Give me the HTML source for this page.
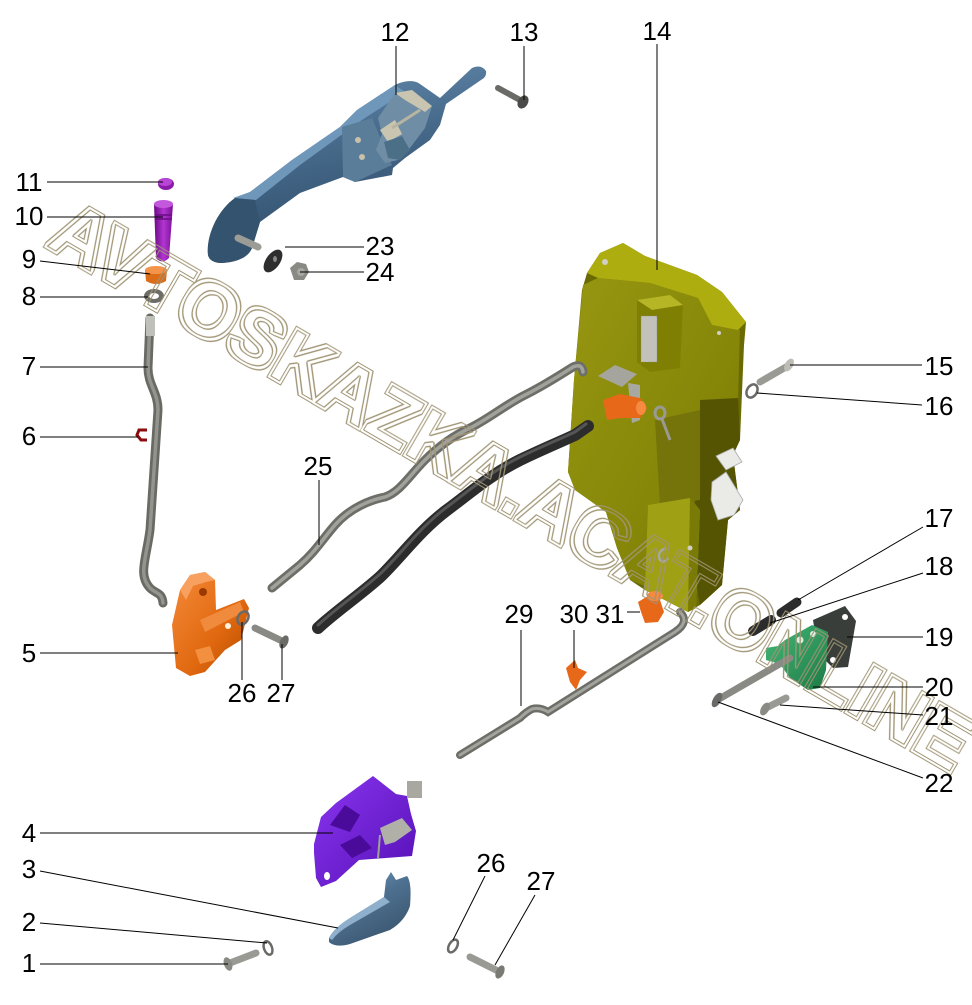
<!DOCTYPE html>
<html><head><meta charset="utf-8"><style>
html,body{margin:0;padding:0;background:#fff;}
svg{display:block;}
text{font-family:"Liberation Sans",Arial,sans-serif;}
</style></head><body>
<svg width="972" height="1005" viewBox="0 0 972 1005" xmlns="http://www.w3.org/2000/svg">
<defs>
<linearGradient id="hb" x1="0" y1="0" x2="0.3" y2="1"><stop offset="0" stop-color="#6a92b4"/><stop offset="0.5" stop-color="#46698a"/><stop offset="1" stop-color="#2d4a66"/></linearGradient>
<linearGradient id="pur" x1="0" y1="0" x2="1" y2="0"><stop offset="0" stop-color="#6a0a85"/><stop offset="0.5" stop-color="#b335d2"/><stop offset="1" stop-color="#7a1095"/></linearGradient>
<linearGradient id="org" x1="0" y1="0" x2="1" y2="1"><stop offset="0" stop-color="#f58a3a"/><stop offset="0.6" stop-color="#e0680f"/><stop offset="1" stop-color="#b04a00"/></linearGradient>
<linearGradient id="ol" x1="0" y1="0" x2="1" y2="1"><stop offset="0" stop-color="#979712"/><stop offset="1" stop-color="#7a7a02"/></linearGradient>
<linearGradient id="vio" x1="0" y1="0" x2="1" y2="1"><stop offset="0" stop-color="#8a35f0"/><stop offset="1" stop-color="#5510b5"/></linearGradient>
<linearGradient id="grn" x1="0" y1="0" x2="1" y2="1"><stop offset="0" stop-color="#45b878"/><stop offset="1" stop-color="#1c7a45"/></linearGradient>
<linearGradient id="tip" x1="0" y1="0" x2="0.6" y2="1"><stop offset="0" stop-color="#7ea2c0"/><stop offset="0.5" stop-color="#4e7090"/><stop offset="1" stop-color="#3a566f"/></linearGradient>
<filter id="dbl" x="-3%" y="-20%" width="106%" height="140%">
<feMorphology in="SourceAlpha" operator="dilate" radius="3" result="d3"/>
<feMorphology in="SourceAlpha" operator="dilate" radius="2" result="d2"/>
<feComposite in="d3" in2="d2" operator="out" result="outer"/>
<feMorphology in="SourceAlpha" operator="erode" radius="1" result="e1"/>
<feComposite in="SourceAlpha" in2="e1" operator="out" result="inner"/>
<feMerge result="m"><feMergeNode in="outer"/><feMergeNode in="inner"/></feMerge>
<feFlood flood-color="#a09574"/>
<feComposite in2="m" operator="in"/>
</filter>
</defs>
<rect width="972" height="1005" fill="#fff"/>

<!-- Part 12 handle -->
<path d="M208,255 C206,235 218,210 235,198 L250,192 L292,160 L340,127 L357,110 L395,85 C405,80 415,80 420,84 L440,98 L472,68 Q481,64 486,71 Q487,77 481,80 L446,104 L440,125 L430,140 L405,158 L393,168 L392,175 L355,182 L343,177 L300,193 L260,222 L252,248 C248,258 236,262 222,263 C214,263 209,260 208,255 Z" fill="url(#hb)"/>
<path d="M233,198 L250,192 L292,160 L340,127 L357,110 L395,85 L405,92 L362,120 L300,165 L256,200 Z" fill="#6f97ba"/>
<path d="M208,255 C206,235 218,210 235,198 L255,200 L260,222 L252,248 C248,258 236,262 222,263 C214,263 209,260 208,255 Z" fill="#34536f"/>
<path d="M342,127 L372,118 L392,165 L355,182 L343,177 Z" fill="#5a7d99"/>
<circle cx="358" cy="140" r="3" fill="#c8c0a8"/><circle cx="362" cy="157" r="3" fill="#c8c0a8"/>
<path d="M378,118 L395,93 L412,90 L432,106 L425,128 L410,148 L398,160 L385,163 L376,150 L382,134 Z" fill="#6f8ea6"/>
<path d="M395,93 L412,90 L432,106 L425,112 L405,100 Z" fill="#c9c5b0"/>
<path d="M380,130 L395,120 L402,134 L388,142 Z" fill="#c9c5b0"/>
<path d="M384,142 L402,136 L410,150 L400,160 L388,158 Z" fill="#4c6f88"/>
<line x1="392" y1="128" x2="420" y2="110" stroke="#b8b4a0" stroke-width="3"/>
<line x1="238" y1="238" x2="258" y2="247" stroke="#9c9c96" stroke-width="7" stroke-linecap="round"/>
<!-- 13 screw -->
<line x1="498" y1="88" x2="520" y2="100" stroke="#6a6a66" stroke-width="6" stroke-linecap="round"/>
<ellipse cx="523" cy="102" rx="5" ry="7" fill="#4a4a48" transform="rotate(30 523 102)"/>
<!-- 23 washer, 24 nut -->
<ellipse cx="273" cy="261" rx="7" ry="13" fill="#2e2e2e" transform="rotate(35 273 261)"/>
<ellipse cx="275" cy="259" rx="2" ry="3" fill="#888"/>
<path d="M290,268 L297,262 L306,264 L309,272 L304,280 L294,280 Z" fill="#8a8a84"/>
<circle cx="301" cy="272" r="4" fill="#a8a8a2"/>

<!-- 11,10,9,8 -->
<ellipse cx="166" cy="184" rx="8" ry="6" fill="#8a1aa8"/>
<ellipse cx="165" cy="182" rx="7" ry="4" fill="#b845d5"/>
<path d="M154,204 L173,204 L169,258 Q162,265 156,258 Z" fill="url(#pur)"/>
<ellipse cx="163.5" cy="204" rx="9.5" ry="4" fill="#c458dc"/>
<line x1="155" y1="215" x2="172" y2="215" stroke="#6a0a85" stroke-width="1.5"/>
<line x1="155" y1="219" x2="172" y2="219" stroke="#6a0a85" stroke-width="1.5"/>
<path d="M145,270 L167,270 L166,281 Q156,287 146,281 Z" fill="#dc6d18"/>
<ellipse cx="156" cy="270" rx="11" ry="4" fill="#f4944a"/>
<ellipse cx="154" cy="296" rx="10" ry="7" fill="#6d6d68"/>
<ellipse cx="154" cy="296" rx="5" ry="3" fill="#fff"/>

<!-- rod 7 -->
<path d="M150,318 L148,368 C148,385 158,392 158,410 L150,530 C146,560 138,575 150,588 C156,594 162,592 163,603" fill="none" stroke="#6a6a64" stroke-width="9" stroke-linecap="round"/>
<path d="M150,318 L148,368 C148,385 158,392 158,410 L150,530 C146,560 138,575 150,588 C156,594 162,592 163,603" fill="none" stroke="#94948e" stroke-width="3.5" stroke-linecap="round"/>
<rect x="146" y="316" width="9" height="20" fill="#c0c0ba"/>
<!-- 6 clip -->
<path d="M147,430 L139,430 L137,435 L141,440 L147,440" fill="none" stroke="#8a0c0c" stroke-width="3"/>

<!-- 5 orange lever -->
<path d="M176,668 L172,625 L180,590 L190,575 L205,572 L215,580 L216,610 L244,599 L249,608 L241,640 L225,650 L205,672 L190,676 Z" fill="url(#org)"/>
<path d="M180,590 L190,575 L205,572 L215,580 L206,582 L193,586 L186,600 Z" fill="#f7a060"/>
<circle cx="203" cy="592" r="4" fill="#9a3a00"/>
<path d="M200,620 L240,602 L244,612 L205,632 Z" fill="#f08a3c"/>
<circle cx="228" cy="626" r="3" fill="#fff3e0"/>
<path d="M195,650 L210,646 L215,660 L200,664 Z" fill="#f29040"/>
<!-- 26,27 mid -->
<ellipse cx="243" cy="618" rx="5" ry="7" fill="none" stroke="#6a6a66" stroke-width="2.5" transform="rotate(30 243 618)"/>
<line x1="255" y1="628" x2="280" y2="640" stroke="#8a8a84" stroke-width="7" stroke-linecap="round"/>
<ellipse cx="284" cy="642" rx="4" ry="7" fill="#6a6a66" transform="rotate(25 284 642)"/>

<!-- 14 lock -->
<path d="M587,273 L600,253 L623,243 L645,256 L697,275 L722,292 L746,322 L744,345 L740,440 L733,455 L740,510 L728,520 L722,585 L700,605 L688,612 L645,590 L630,580 L617,548 L606,512 L575,490 L568,472 L574,380 L582,290 Z" fill="#6a6a02"/>
<path d="M583,285 L598,278 L650,283 L698,298 L712,325 L740,330 L738,400 L705,440 L700,500 L660,505 L650,588 L630,580 L617,548 L606,512 L575,490 L568,472 L574,380 Z" fill="url(#ol)"/>
<path d="M587,273 L600,253 L623,243 L645,256 L697,275 L722,292 L746,322 L738,330 L712,325 L698,298 L650,283 L598,278 Z" fill="#adad10"/>
<path d="M700,400 L738,398 L740,440 L733,455 L740,510 L728,520 L722,585 L700,605 L692,560 L695,505 L700,450 Z" fill="#545402"/>
<path d="M655,420 L700,410 L700,500 L660,505 Z" fill="#74740a"/>
<path d="M648,505 L690,498 L700,510 L696,608 L688,612 L645,590 Z" fill="#a0a014"/>
<path d="M690,498 L700,510 L696,608 L688,612 Z" fill="#7a7a06"/>
<!-- cams -->
<path d="M716,456 L733,448 L742,462 L726,470 Z" fill="#eaeae6" stroke="#aaa" stroke-width="0.8"/>
<path d="M712,482 L726,472 L743,500 L734,515 L718,520 L711,500 Z" fill="#eaeae6" stroke="#aaa" stroke-width="0.8"/>
<!-- bracket/mesh -->
<path d="M637,300 L670,295 L683,305 L680,368 L650,372 L637,362 Z" fill="#7f7f04"/>
<path d="M637,300 L670,295 L683,305 L652,310 Z" fill="#b5b525"/>
<rect x="641" y="316" width="16" height="46" fill="#c2c2ba"/>
<path d="M641,316 L657,316 L657,362 L641,362 Z" fill="none" stroke="#8a8a82" stroke-width="0.8" stroke-dasharray="1 1.5"/>
<!-- plate + clip -->
<path d="M598,376 L615,365 L637,374 L622,387 Z" fill="#a5a59e"/>
<path d="M628,383 L640,385 L640,420 L632,423 Z" fill="#a8a8a2"/>
<path d="M603,400 L620,394 L640,398 L647,408 L640,418 L620,418 L607,420 Z" fill="#e8681a"/>
<ellipse cx="641" cy="408" rx="5" ry="7" fill="#f58a40"/>
<ellipse cx="660" cy="413" rx="5" ry="6" fill="none" stroke="#9a9a94" stroke-width="3"/>
<line x1="662" y1="419" x2="670" y2="440" stroke="#9a9a94" stroke-width="3"/>
<circle cx="605" cy="262" r="3" fill="#cfcfc5"/>
<circle cx="719" cy="333" r="2" fill="#cfcfc5"/>
<path d="M666,548 Q656,552 660,560 Q664,564 668,558" fill="none" stroke="#a8a8a2" stroke-width="2.5"/>
<circle cx="690" cy="548" r="2.5" fill="#cfcfc5"/>

<!-- rod 25 -->
<path d="M272,588 L300,565 C315,552 322,540 335,525 C350,508 370,500 385,497 C400,492 410,475 425,460 C440,445 455,435 470,428 C490,418 505,405 525,395 C545,385 560,375 573,367 Q582,363 583,372" fill="none" stroke="#6e6e68" stroke-width="9" stroke-linecap="round"/>
<path d="M272,588 L300,565 C315,552 322,540 335,525 C350,508 370,500 385,497 C400,492 410,475 425,460 C440,445 455,435 470,428 C490,418 505,405 525,395 C545,385 560,375 573,367 Q582,363 583,372" fill="none" stroke="#a2a29c" stroke-width="3.5" stroke-linecap="round"/>
<!-- black rod -->
<path d="M318,628 C335,612 360,595 380,577 C400,558 420,530 447,510 C470,493 490,475 520,460 C545,448 560,442 575,435 L588,426" fill="none" stroke="#2c2c2c" stroke-width="12" stroke-linecap="round"/>
<path d="M318,625 C335,609 360,592 380,574 C400,555 420,527 447,507 C470,490 490,472 520,457 C545,445 560,439 575,432 L586,424" fill="none" stroke="#555" stroke-width="3" stroke-linecap="round"/>
<!-- rod 29 -->
<path d="M460,755 L520,718 Q526,712 532,709 Q540,707 548,712 L675,632 Q690,622 680,612" fill="none" stroke="#6e6e68" stroke-width="8" stroke-linecap="round"/>
<path d="M460,755 L520,718 Q526,712 532,709 Q540,707 548,712 L675,632 Q690,622 680,612" fill="none" stroke="#a4a49e" stroke-width="3" stroke-linecap="round"/>
<!-- 30, 31 -->
<path d="M566,668 L575,660 L578,668 L587,672 L580,680 L576,690 L570,682 Z" fill="#e8681a"/>
<path d="M638,602 L648,596 L660,600 L664,612 L658,622 L645,623 L641,612 Z" fill="#e8681a"/>
<ellipse cx="655" cy="596" rx="8" ry="5" fill="#f58a40"/>
<!-- 15, 16 -->
<line x1="760" y1="382" x2="786" y2="367" stroke="#9a9a94" stroke-width="7" stroke-linecap="round"/>
<ellipse cx="789" cy="365" rx="4" ry="7" fill="#bdbdb6" transform="rotate(30 789 365)"/>
<ellipse cx="752" cy="391" rx="5" ry="7" fill="none" stroke="#6a6a66" stroke-width="2.5" transform="rotate(30 752 391)"/>
<!-- 17, 18 -->
<line x1="781" y1="613" x2="797" y2="602" stroke="#2c2c2c" stroke-width="9" stroke-linecap="round"/>
<line x1="753" y1="631" x2="771" y2="620" stroke="#2c2c2c" stroke-width="10" stroke-linecap="round"/>
<!-- 19 plate -->
<path d="M813,620 L845,606 L856,621 L848,667 L833,668 L818,653 Z" fill="#3a3e3a"/>
<circle cx="845" cy="617" r="3" fill="#fff"/><circle cx="833" cy="660" r="3" fill="#fff"/><circle cx="822" cy="633" r="3" fill="#fff"/>
<!-- 20 green bracket -->
<path d="M785,640 L812,625 L828,632 L826,670 L820,688 L808,690 L790,678 L780,664 L766,660 L766,648 L778,646 Z" fill="url(#grn)"/>
<circle cx="800" cy="640" r="3.5" fill="#d8f0e0"/><circle cx="813" cy="634" r="3" fill="#d8f0e0"/>
<!-- 22 pin, 21 screw -->
<line x1="719" y1="699" x2="790" y2="658" stroke="#8a8a84" stroke-width="7" stroke-linecap="round"/>
<ellipse cx="717" cy="700" rx="4" ry="8" fill="#6a6a66" transform="rotate(30 717 700)"/>
<line x1="766" y1="708" x2="786" y2="698" stroke="#9a9a94" stroke-width="7" stroke-linecap="round"/>
<ellipse cx="765" cy="709" rx="4" ry="7" fill="#8a8a84" transform="rotate(30 765 709)"/>

<!-- 4 purple -->
<path d="M314,844 L321,817 L336,803 L373,776 L396,794 L407,796 L411,814 L416,831 L412,856 L386,858 L359,860 L336,881 L321,887 L316,878 L314,853 Z" fill="url(#vio)"/>
<path d="M330,825 L345,805 L360,815 L350,832 Z" fill="#4a0a9a"/>
<path d="M340,845 L360,835 L372,848 L352,858 Z" fill="#4a0a9a"/>
<rect x="407" y="781" width="15" height="17" fill="#a8a8a0"/>
<path d="M380,828 L402,818 L412,830 L395,842 L385,845 Z" fill="#b0b0a8"/>
<line x1="380" y1="835" x2="378" y2="858" stroke="#a0a098" stroke-width="2"/>
<ellipse cx="327" cy="876" rx="3" ry="4" fill="#fff"/>
<!-- 3 blue tip -->
<path d="M329,938 Q334,928 350,918 L384,897 L386,880 L391,872 L396,880 L407,876 Q412,882 410,906 Q405,921 390,930 L350,944 Q335,948 329,942 Z" fill="url(#tip)"/>
<path d="M329,938 Q334,928 350,918 L384,897 L390,902 L350,925 Q338,932 332,940 Z" fill="#8fb0cc"/>
<!-- 1,2 -->
<line x1="230" y1="963" x2="256" y2="953" stroke="#9a9a94" stroke-width="7" stroke-linecap="round"/>
<ellipse cx="228" cy="964" rx="4" ry="7" fill="#8a8a84" transform="rotate(-20 228 964)"/>
<ellipse cx="268" cy="948" rx="4" ry="7" fill="none" stroke="#6a6a66" stroke-width="2.5" transform="rotate(-20 268 948)"/>
<!-- 26,27 bottom -->
<ellipse cx="453" cy="946" rx="4" ry="7" fill="none" stroke="#6a6a66" stroke-width="2.5" transform="rotate(30 453 946)"/>
<line x1="470" y1="957" x2="496" y2="970" stroke="#9a9a94" stroke-width="7" stroke-linecap="round"/>
<ellipse cx="500" cy="972" rx="4" ry="7" fill="#7a7a74" transform="rotate(25 500 972)"/>

<!-- watermark -->
<g transform="rotate(30.2 45 245)">
<text x="45" y="245" font-size="78" font-weight="bold" textLength="1050" lengthAdjust="spacingAndGlyphs" fill="#000" filter="url(#dbl)">AVTOSKAZKA.ACAT.ONLINE</text>
</g>

<!-- leaders -->
<g stroke="#000" stroke-width="1" fill="none">
<line x1="47" y1="182" x2="163" y2="182"/>
<line x1="47" y1="217" x2="163" y2="217"/>
<line x1="40" y1="261" x2="150" y2="274"/>
<line x1="40" y1="297" x2="148" y2="297"/>
<line x1="40" y1="367" x2="148" y2="367"/>
<line x1="40" y1="437" x2="138" y2="437"/>
<line x1="40" y1="653" x2="178" y2="653"/>
<line x1="40" y1="833" x2="333" y2="833"/>
<line x1="40" y1="871" x2="338" y2="928"/>
<line x1="40" y1="923" x2="267" y2="943"/>
<line x1="40" y1="964" x2="228" y2="964"/>
<line x1="396" y1="46" x2="396" y2="95"/>
<line x1="524" y1="46" x2="524" y2="100"/>
<line x1="657" y1="44" x2="657" y2="270"/>
<line x1="285" y1="247" x2="364" y2="247"/>
<line x1="300" y1="272" x2="364" y2="272"/>
<line x1="319" y1="480" x2="319" y2="545"/>
<line x1="790" y1="365" x2="922" y2="365"/>
<line x1="757" y1="393" x2="922" y2="405"/>
<line x1="923" y1="527" x2="798" y2="600"/>
<line x1="923" y1="573" x2="770" y2="623"/>
<line x1="847" y1="637" x2="923" y2="637"/>
<line x1="813" y1="687" x2="923" y2="687"/>
<line x1="780" y1="705" x2="923" y2="715"/>
<line x1="718" y1="702" x2="923" y2="778"/>
<line x1="521" y1="630" x2="521" y2="706"/>
<line x1="574" y1="630" x2="574" y2="668"/>
<line x1="627" y1="612" x2="640" y2="612"/>
<line x1="242" y1="680" x2="242" y2="622"/>
<line x1="282" y1="680" x2="282" y2="644"/>
<line x1="485" y1="876" x2="453" y2="940"/>
<line x1="535" y1="895" x2="495" y2="965"/>
</g>

<!-- labels -->
<g font-size="26" fill="#000" text-anchor="middle">
<text x="29" y="191">11</text>
<text x="29" y="225">10</text>
<text x="29" y="268">9</text>
<text x="29" y="305">8</text>
<text x="29" y="375">7</text>
<text x="29" y="445">6</text>
<text x="29" y="662">5</text>
<text x="29" y="842">4</text>
<text x="29" y="878">3</text>
<text x="29" y="931">2</text>
<text x="29" y="972">1</text>
<text x="395" y="41">12</text>
<text x="524" y="41">13</text>
<text x="657" y="40">14</text>
<text x="380" y="255">23</text>
<text x="380" y="281">24</text>
<text x="318" y="475">25</text>
<text x="939" y="375">15</text>
<text x="939" y="415">16</text>
<text x="939" y="527">17</text>
<text x="939" y="575">18</text>
<text x="939" y="646">19</text>
<text x="939" y="696">20</text>
<text x="939" y="725">21</text>
<text x="939" y="792">22</text>
<text x="519" y="623">29</text>
<text x="574" y="623">30</text>
<text x="610" y="623">31</text>
<text x="242" y="702">26</text>
<text x="281" y="702">27</text>
<text x="491" y="872">26</text>
<text x="541" y="890">27</text>
</g>
</svg>
</body></html>
